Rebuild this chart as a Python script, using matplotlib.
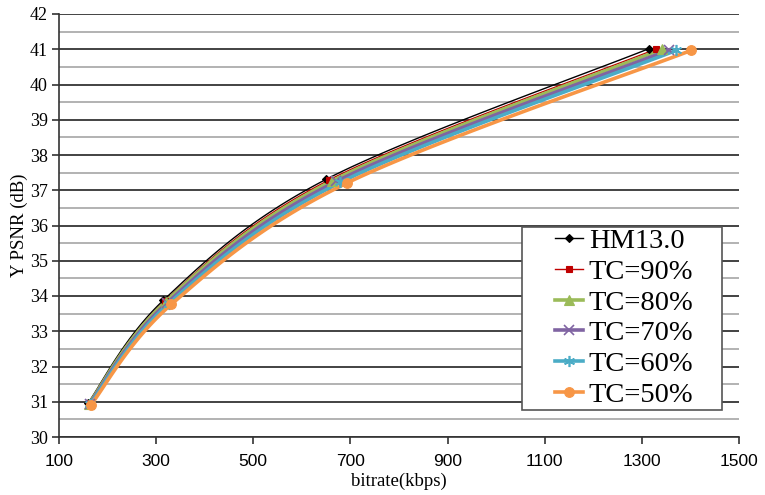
import numpy as np
import matplotlib
matplotlib.use("Agg")
import matplotlib.pyplot as plt
from matplotlib.ticker import MultipleLocator
from matplotlib.patches import Rectangle

# Rate-distortion points (bitrate in kbps, Y-PSNR in dB) for each configuration
labels = ["HM13.0", "TC=90%", "TC=80%", "TC=70%", "TC=60%", "TC=50%"]

hm_rate = [160, 315, 650, 1315]
hm_psnr = [30.97, 33.88, 37.31, 41.02]

tc90_rate = [161, 318, 656, 1330]
tc90_psnr = [30.96, 33.86, 37.29, 41.01]

tc80_rate = [162, 320, 663, 1341]
tc80_psnr = [30.95, 33.84, 37.27, 41.00]

tc70_rate = [163, 323, 671, 1356]
tc70_psnr = [30.94, 33.81, 37.25, 40.98]

tc60_rate = [164, 326, 679, 1371]
tc60_psnr = [30.93, 33.78, 37.22, 40.97]

tc50_rate = [166, 331, 692, 1402]
tc50_psnr = [30.92, 33.76, 37.20, 40.97]

x_ticks = [100, 300, 500, 700, 900, 1100, 1300, 1500]

rates = [hm_rate, tc90_rate, tc80_rate, tc70_rate, tc60_rate, tc50_rate]
psnrs = [hm_psnr, tc90_psnr, tc80_psnr, tc70_psnr, tc60_psnr, tc50_psnr]

colors = ["#000000", "#C00000", "#9BBB59", "#8064A2", "#4BACC6", "#F79646"]
markers = ["D", "s", "^", "x", (6, 2, 0), "o"]
msizes = [4, 5, 7, 7, 8, 7]
lwidths = [1.0, 1.0, 2.6, 2.6, 2.6, 2.6]


def smooth(x, y, n=40):
    """Spreadsheet-style smoothed line: Catmull-Rom Bezier segments."""
    p = np.column_stack([x, y]).astype(float)
    pts = np.vstack([p[0], p, p[-1]])
    out = []
    t = np.linspace(0, 1, n)[:, None]
    for i in range(1, len(pts) - 2):
        p0, p1, p2, p3 = pts[i - 1], pts[i], pts[i + 1], pts[i + 2]
        c1 = p1 + (p2 - p0) / 6.0
        c2 = p2 - (p3 - p1) / 6.0
        seg = ((1 - t) ** 3) * p1 + 3 * ((1 - t) ** 2) * t * c1 \
            + 3 * (1 - t) * t ** 2 * c2 + t ** 3 * p2
        out.append(seg if i == 1 else seg[1:])
    s = np.vstack(out)
    return s[:, 0], s[:, 1]


fig = plt.figure(figsize=(7.65, 4.95), dpi=100)
ax = fig.add_axes([59 / 765, 1 - 437 / 495, 680 / 765, 423 / 495])

serif = ["Liberation Serif", "DejaVu Serif"]

handles = []
for r, q, c, m, ms, lw, lab in zip(rates, psnrs, colors, markers, msizes, lwidths, labels):
    sx, sy = smooth(r, q)
    ax.plot(sx, sy, color=c, lw=lw, zorder=3)
    mew = 1.2 if m in ("x", (6, 2, 0)) else 0.8
    ax.plot(r, q, linestyle="none", marker=m, color=c, ms=ms, mew=mew, zorder=4)
    h, = ax.plot([], [], color=c, lw=lw, marker=m, ms=ms, mew=mew, label=lab)
    handles.append(h)

ax.set_xlim(100, 1500)
ax.set_ylim(30, 42)
ax.set_xticks(x_ticks)
ax.yaxis.set_major_locator(MultipleLocator(1))
ax.yaxis.set_minor_locator(MultipleLocator(0.5))

ax.grid(which="major", axis="y", color="#222222", lw=1.2, zorder=0)
ax.grid(which="minor", axis="y", color="#a6a6a6", lw=1.2, zorder=0)
ax.set_axisbelow(True)

for side in ("top", "right"):
    ax.spines[side].set_visible(False)
for side in ("left", "bottom"):
    ax.spines[side].set_color("#333333")
    ax.spines[side].set_linewidth(1.2)

ax.tick_params(axis="y", which="major", direction="out", length=5, width=1.2,
               color="#333333", labelsize=13, pad=3)
ax.tick_params(axis="y", which="minor", length=0)
ax.tick_params(axis="x", which="major", direction="out", length=5, width=1.2,
               color="#333333", labelsize=12.5, pad=7)
for lbl in ax.get_yticklabels():
    lbl.set_family(serif)
for lbl in ax.get_xticklabels():
    lbl.set_family(["Liberation Sans", "DejaVu Sans"])

ax.set_xlabel("bitrate(kbps)", family=serif, fontsize=13.5, labelpad=3)
ax.set_ylabel("Y PSNR (dB)", family=serif, fontsize=13.5, labelpad=1)

# Legend frame, with the entries centred inside it
box = Rectangle((522 / 765, 1 - 410 / 495), 200 / 765, 183 / 495,
                transform=fig.transFigure, facecolor="white",
                edgecolor="#555555", lw=1.2, zorder=9)
fig.patches.append(box)
leg = fig.legend(handles=handles, loc="center",
                 bbox_to_anchor=(624 / 765, 1 - 318 / 495),
                 prop={"family": serif, "size": 20.5}, frameon=False,
                 handlelength=1.0, handletextpad=0.2, labelspacing=0.17,
                 borderpad=0.0, borderaxespad=0)
leg.set_zorder(10)

fig.savefig("out.png", dpi=100)
